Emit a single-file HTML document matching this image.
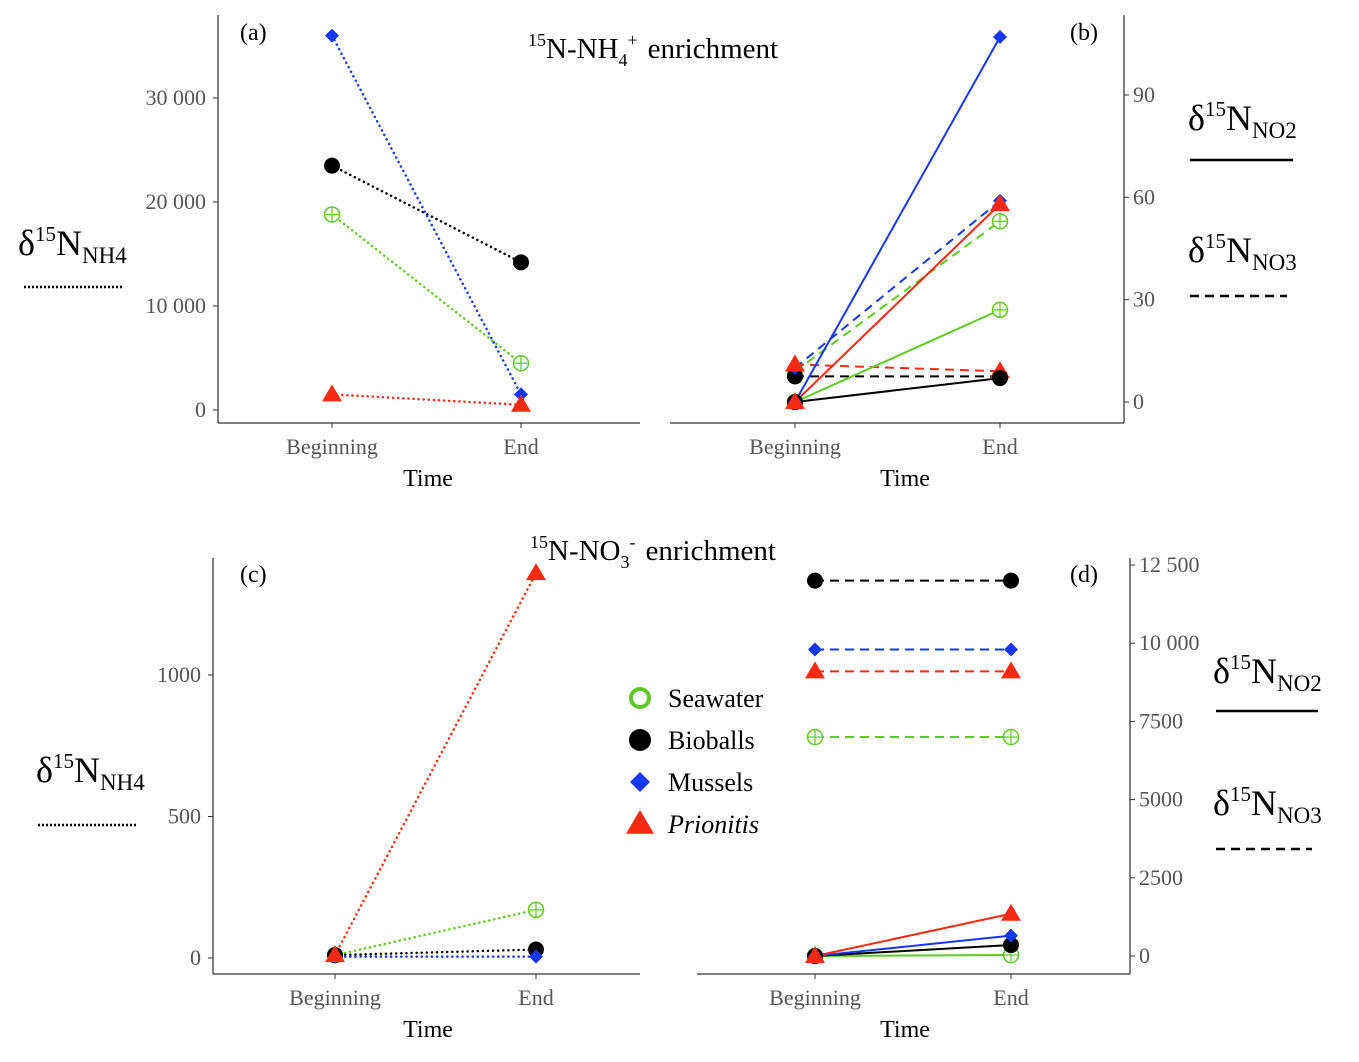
<!DOCTYPE html>
<html><head><meta charset="utf-8">
<style>
body{margin:0;background:#fff;}
svg{display:block;font-family:"Liberation Serif",serif;}
.tick{fill:#555;font-size:22px;}
.ttl{fill:#000;font-size:24px;}
.leg{fill:#000;font-size:26px;}
</style></head>
<body>
<svg id="fig" width="1359" height="1062" viewBox="0 0 1359 1062"></svg>
<script>
const series = ["Seawater","Bioballs","Mussels","Prionitis"];
const colors = ["#5ec922","#000000","#1537f0","#f52a12"];
const timeLabels = ["Beginning","End"];
// panel a: NH4 (dotted)
const aNH4 = [[18800,4500],[23500,14200],[36000,1500],[1500,500]];
const aTicks = [0,10000,20000,30000];
const aTickLabels = ["0","10 000","20 000","30 000"];
// panel b
const bNO2 = [[0,27],[0,7],[0,107],[0,58]];
const bNO3 = [[9,53],[7.5,7.5],[10,59],[11,9]];
const bTicks = [0,30,60,90];
const bTickLabels = ["0","30","60","90"];
// panel c
const cNH4 = [[10,170],[10,30],[5,5],[10,1360]];
const cTicks = [0,500,1000];
const cTickLabels = ["0","500","1000"];
// panel d
const dNO2 = [[0,30],[0,350],[0,650],[0,1350]];
const dNO3 = [[7000,7000],[12000,12000],[9800,9800],[9100,9100]];
const dTicks = [0,2500,5000,7500,10000,12500];
const dTickLabels = ["0","2500","5000","7500","10 000","12 500"];

const svg=document.getElementById('fig');
const NS="http://www.w3.org/2000/svg";
function mk(tag,at,parent){const e=document.createElementNS(NS,tag);for(const k in at)e.setAttribute(k,at[k]);(parent||svg).appendChild(e);return e;}
function txt(x,y,s,cls,anchor,parent){const t=mk('text',{x:x,y:y,'class':cls,'text-anchor':anchor||'middle'},parent);t.textContent=s;return t;}

function marker(g,i,x,y,big){
  const c=colors[i];let m;
  if(i===0){m=mk('g',{},g);
    if(big){mk('circle',{cx:x,cy:y,r:9,fill:'#fff',stroke:c,'stroke-width':4},m);}
    else{mk('circle',{cx:x,cy:y,r:7.5,fill:'#fff',stroke:c,'stroke-width':1.5},m);
    mk('line',{x1:x-7.5,y1:y,x2:x+7.5,y2:y,stroke:c,'stroke-width':1.2},m);mk('line',{x1:x,y1:y-7.5,x2:x,y2:y+7.5,stroke:c,'stroke-width':1.2},m);}}
  else if(i===1){m=mk('circle',{cx:x,cy:y,r:big?11:8,fill:c},g);}
  else if(i===2){const s=big?10:7;m=mk('polygon',{points:`${x},${y-s} ${x+s},${y} ${x},${y+s} ${x-s},${y}`,fill:c},g);}
  else {const s=big?14:10;m=mk('polygon',{points:`${x},${y-s} ${x+s},${y+s*0.7} ${x-s},${y+s*0.7}`,fill:c},g);}
  
  
}

function panel(o){
  const g=mk('g',{});
  
  
  const y=v=>o.y0+(v-o.v0)*(o.y1-o.y0)/(o.v1-o.v0);
  const xs=[o.xb,o.xe];
  mk('line',{x1:o.axL,y1:o.bot,x2:o.axR,y2:o.bot,stroke:'#000','stroke-width':1},g);
  const ax=o.right?o.axR:o.axL;
  const yaxis=mk('line',{x1:ax,y1:o.top,x2:ax,y2:o.bot,stroke:'#000','stroke-width':1},g);
  
  
  o.ticks.forEach((t,k)=>{
    const yy=y(t);
    mk('line',{x1:ax,y1:yy,x2:o.right?ax+5:ax-5,y2:yy,stroke:'#333'},g);
    const lab=txt(o.right?ax+9:ax-12,yy+7,o.tickLabels[k],'tick',o.right?'start':'end',g);
    
    
  });
  xs.forEach((x,k)=>{mk('line',{x1:x,y1:o.bot,x2:x,y2:o.bot+5,stroke:'#333'},g);
    const l=txt(x,o.bot+31,timeLabels[k],'tick','middle',g);
    
    });
  const xt=txt(o.tx,o.bot+63,'Time','ttl','middle',g);
  
  
  const pl=txt(o.lx,o.ly,'('+o.id+')','ttl','start',g);
  
  
  o.sets.forEach(s=>{
    s.data.forEach((d,i)=>{
      const dot=s.dash==='dot';
      const ln=mk('line',{x1:xs[0],y1:y(d[0]),x2:xs[1],y2:y(d[1]),stroke:colors[i],'stroke-width':dot?2.5:2,'stroke-dasharray':dot?'0.1,5':(s.dash==='dash'?'9,6':'none'),'stroke-linecap':dot?'round':'butt'},g);
      
      
    });
  });
  o.sets.forEach(s=>{s.data.forEach((d,i)=>{marker(g,i,xs[0],y(d[0]));marker(g,i,xs[1],y(d[1]));});});
}

panel({id:'a',axL:218,axR:640,top:15,bot:423,right:false,xb:332,xe:521,tx:428,v0:0,y0:410,v1:30000,y1:98,ticks:aTicks,tickLabels:aTickLabels,lx:240,ly:40,sets:[{data:aNH4,dash:'dot'}]});
panel({id:'b',axL:670,axR:1124,top:15,bot:423,right:true,xb:795,xe:1000,tx:905,v0:0,y0:402,v1:90,y1:95,ticks:bTicks,tickLabels:bTickLabels,lx:1070,ly:40,sets:[{data:bNO3,dash:'dash'},{data:bNO2,dash:'solid'}]});
panel({id:'c',axL:213,axR:640,top:558,bot:974,right:false,xb:335,xe:536,tx:428,v0:0,y0:958,v1:1000,y1:675,ticks:cTicks,tickLabels:cTickLabels,lx:240,ly:582,sets:[{data:cNH4,dash:'dot'}]});
panel({id:'d',axL:697,axR:1130,top:558,bot:974,right:true,xb:815,xe:1011,tx:905,v0:0,y0:956,v1:12500,y1:565,ticks:dTicks,tickLabels:dTickLabels,lx:1070,ly:582,sets:[{data:dNO3,dash:'dash'},{data:dNO2,dash:'solid'}]});

const lg=mk('g',{});


series.forEach((s,i)=>{
  const yy=698+i*42;
  marker(lg,i,640,yy,true);
  const t=txt(668,yy+9,s,'leg','start',lg);
  if(i===3)t.setAttribute('font-style','italic');
  
  
});
</script>
<svg style="position:absolute;left:0;top:0" width="1359" height="1062">
  <g font-family="Liberation Serif, serif" fill="#000">
    <text x="528" y="58" font-size="29"><tspan font-size="18" dy="-12">15</tspan><tspan dy="12">N-NH</tspan><tspan font-size="18" dy="8">4</tspan><tspan font-size="18" dy="-20">+</tspan><tspan dy="12" dx="10">enrichment</tspan></text>
    <text x="530" y="560" font-size="29"><tspan font-size="18" dy="-12">15</tspan><tspan dy="12">N-NO</tspan><tspan font-size="18" dy="8">3</tspan><tspan font-size="18" dy="-20">-</tspan><tspan dy="12" dx="10">enrichment</tspan></text>
    <g font-size="36">
      <text x="18" y="255">δ<tspan font-size="21" dy="-14">15</tspan><tspan dy="14">N</tspan><tspan font-size="23" dy="8">NH4</tspan></text>
      <text x="1188" y="130">δ<tspan font-size="21" dy="-14">15</tspan><tspan dy="14">N</tspan><tspan font-size="23" dy="8">NO2</tspan></text>
      <text x="1188" y="262">δ<tspan font-size="21" dy="-14">15</tspan><tspan dy="14">N</tspan><tspan font-size="23" dy="8">NO3</tspan></text>
      <text x="36" y="782">δ<tspan font-size="21" dy="-14">15</tspan><tspan dy="14">N</tspan><tspan font-size="23" dy="8">NH4</tspan></text>
      <text x="1213" y="683">δ<tspan font-size="21" dy="-14">15</tspan><tspan dy="14">N</tspan><tspan font-size="23" dy="8">NO2</tspan></text>
      <text x="1213" y="815">δ<tspan font-size="21" dy="-14">15</tspan><tspan dy="14">N</tspan><tspan font-size="23" dy="8">NO3</tspan></text>
    </g>
    <line x1="24" y1="287" x2="122" y2="287" stroke="#000" stroke-width="2.5" stroke-dasharray="2,2"/>
    <line x1="1190" y1="160" x2="1293" y2="160" stroke="#000" stroke-width="2.5"/>
    <line x1="1190" y1="296" x2="1287" y2="296" stroke="#000" stroke-width="2.5" stroke-dasharray="9,6"/>
    <line x1="38" y1="825" x2="137" y2="825" stroke="#000" stroke-width="2.5" stroke-dasharray="2,2"/>
    <line x1="1216" y1="711" x2="1318" y2="711" stroke="#000" stroke-width="2.5"/>
    <line x1="1216" y1="849" x2="1312" y2="849" stroke="#000" stroke-width="2.5" stroke-dasharray="9,6"/>
  </g>
</svg>
</body></html>
